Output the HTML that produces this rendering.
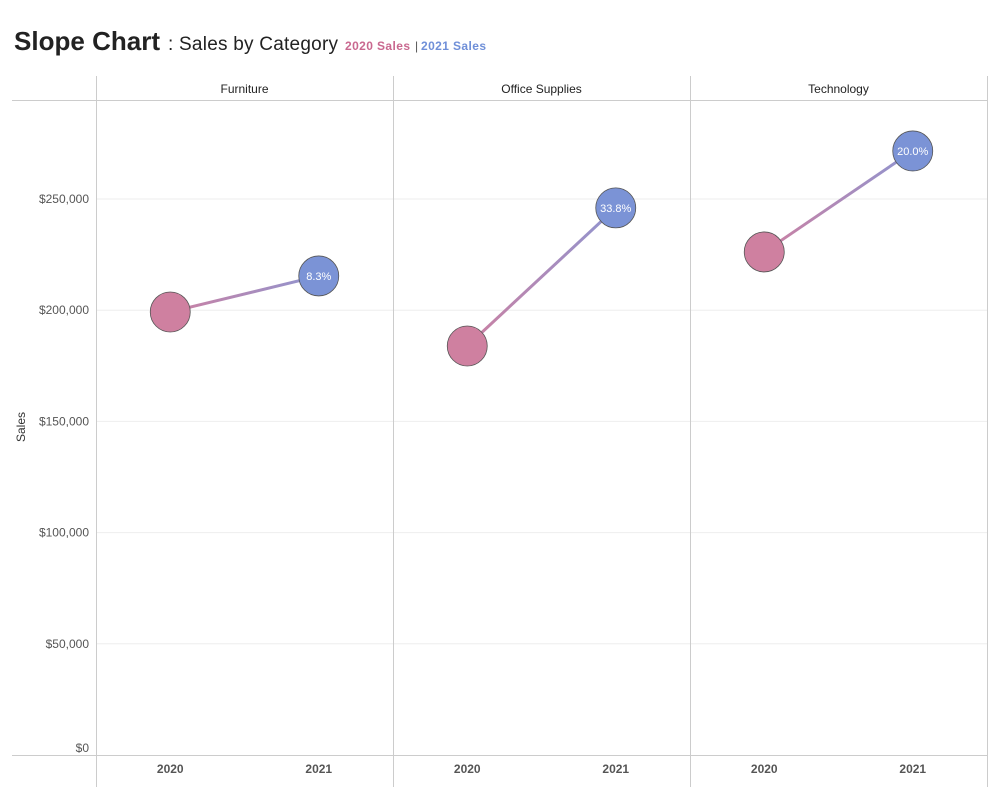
<!DOCTYPE html>
<html><head><meta charset="utf-8"><style>
body{margin:0;background:#fff;font-family:"Liberation Sans",sans-serif;}
svg text{font-family:"Liberation Sans",sans-serif;}
</style></head><body>
<svg id="c" width="999" height="799">
<text x="14" y="50" font-size="26" font-weight="bold" fill="#222" textLength="146">Slope Chart</text>
<text x="168" y="50" font-size="19" fill="#222" textLength="170">: Sales by Category</text>
<text x="345" y="50" font-size="12" font-weight="bold" fill="#c9688f" textLength="65">2020 Sales</text>
<text x="415" y="50" font-size="12" fill="#555">|</text>
<text x="421" y="50" font-size="12" font-weight="bold" fill="#6f8fd8" textLength="65">2021 Sales</text>
<text x="0" y="0" transform="translate(25,427) rotate(-90)" font-size="12" fill="#333" text-anchor="middle">Sales</text>
<g id="g"></g>
</svg>
<script>
const categories=["Furniture","Office Supplies","Technology"];
const years=["2020","2021"];
const sales2020=[199200,183900,226200];
const sales2021=[215400,246000,271600];
const growthLabels=["8.3%","33.8%","20.0%"];
const yTicks=[0,50000,100000,150000,200000,250000];
const yTickLabels=["$0","$50,000","$100,000","$150,000","$200,000","$250,000"];
const NS="http://www.w3.org/2000/svg";
const g=document.getElementById('g');
const y0=755,pxPer=556/250000,pL=96,pW=297;
const yS=v=>y0-v*pxPer;
const xS=(ci,yi)=>pL+ci*pW+pW*(yi?0.75:0.25);
function mk(t,a,txt){const e=document.createElementNS(NS,t);for(const k in a)e.setAttribute(k,a[k]);if(txt!=null)e.textContent=txt;g.appendChild(e);return e;}
const defs=mk('defs',{});
const lg=document.createElementNS(NS,'linearGradient');lg.setAttribute('id','lg');
lg.innerHTML='<stop offset="0" stop-color="#cc80a2"/><stop offset="1" stop-color="#8f95d0"/>';defs.appendChild(lg);
yTicks.forEach((t,i)=>{
 if(t>0){const l=mk('line',{x1:96,x2:987,y1:yS(t),y2:yS(t),stroke:'#eee','stroke-width':1});
 }
 const ty=t>0?yS(t)+4:yS(t)-3;
 const tx=mk('text',{x:89,y:ty,'font-size':12,fill:'#555','text-anchor':'end'},yTickLabels[i]);
 
});
mk('line',{x1:12,x2:987,y1:100.5,y2:100.5,stroke:'#ccc'});
mk('line',{x1:12,x2:987,y1:755.5,y2:755.5,stroke:'#ccc'});
for(let i=0;i<=3;i++)mk('line',{x1:pL+i*pW+.5,x2:pL+i*pW+.5,y1:76,y2:787,stroke:'#ccc'});
categories.forEach((c,ci)=>{
 const h=mk('text',{x:pL+ci*pW+pW/2,y:93,'font-size':12,fill:'#222','text-anchor':'middle'},c);
 
 years.forEach((yr,yi)=>{const t=mk('text',{x:xS(ci,yi),y:773,'font-size':12,'font-weight':'bold',fill:'#555','text-anchor':'middle'},yr);
  });
 const x1=xS(ci,0),x2=xS(ci,1),ya=yS(sales2020[ci]),yb=yS(sales2021[ci]);
 const ln=mk('line',{x1:x1,y1:ya,x2:x2,y2:yb+0.01,stroke:'url(#lg)','stroke-width':3});
 
 const a=mk('circle',{cx:x1,cy:ya,r:20,fill:'#cf80a0',stroke:'#555','stroke-width':0.8});
 
 const b=mk('circle',{cx:x2,cy:yb,r:20,fill:'#7b93d6',stroke:'#555','stroke-width':0.8});
 
 const lb=mk('text',{x:x2,y:yb+4,'font-size':11,fill:'#fff','text-anchor':'middle'},growthLabels[ci]);
 
});
</script>
</body></html>
